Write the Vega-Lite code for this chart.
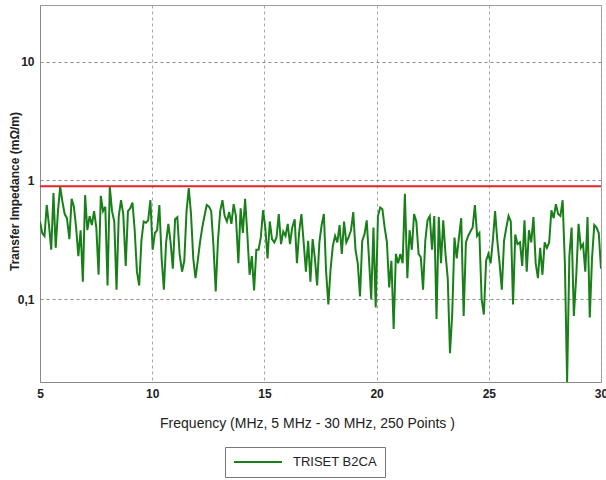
{
  "$schema": "https://vega.github.io/schema/vega-lite/v6.json",
  "width": 561,
  "height": 377,
  "autosize": {"type": "none"},
  "padding": {"left": 40, "top": 5, "right": 5, "bottom": 98},
  "background": "white",
  "config": {
    "view": {"stroke": "#9a9a9a", "strokeWidth": 1},
    "font": "Liberation Sans"
  },
  "datasets": {
    "imp": [
      {"f":5.00,"z":0.45},{"f":5.10,"z":0.36},{"f":5.20,"z":0.34},{"f":5.30,"z":0.62},{"f":5.40,"z":0.42},
      {"f":5.50,"z":0.26},{"f":5.60,"z":0.78},{"f":5.70,"z":0.27},{"f":5.80,"z":0.55},{"f":5.90,"z":0.88},
      {"f":6.00,"z":0.66},{"f":6.10,"z":0.52},{"f":6.20,"z":0.48},{"f":6.31,"z":0.32},{"f":6.41,"z":0.70},
      {"f":6.51,"z":0.60},{"f":6.61,"z":0.40},{"f":6.71,"z":0.23},{"f":6.81,"z":0.38},{"f":6.91,"z":0.14},
      {"f":7.01,"z":0.75},{"f":7.11,"z":0.38},{"f":7.21,"z":0.50},{"f":7.31,"z":0.42},{"f":7.41,"z":0.55},
      {"f":7.51,"z":0.40},{"f":7.61,"z":0.16},{"f":7.71,"z":0.74},{"f":7.81,"z":0.55},{"f":7.91,"z":0.60},
      {"f":8.01,"z":0.13},{"f":8.11,"z":0.88},{"f":8.21,"z":0.55},{"f":8.31,"z":0.45},{"f":8.41,"z":0.12},
      {"f":8.51,"z":0.50},{"f":8.61,"z":0.68},{"f":8.71,"z":0.52},{"f":8.82,"z":0.19},{"f":8.92,"z":0.55},
      {"f":9.02,"z":0.58},{"f":9.12,"z":0.65},{"f":9.22,"z":0.38},{"f":9.32,"z":0.17},{"f":9.42,"z":0.13},
      {"f":9.52,"z":0.31},{"f":9.62,"z":0.45},{"f":9.72,"z":0.44},{"f":9.82,"z":0.46},{"f":9.92,"z":0.68},
      {"f":10.02,"z":0.26},{"f":10.12,"z":0.36},{"f":10.22,"z":0.38},{"f":10.32,"z":0.62},{"f":10.42,"z":0.22},
      {"f":10.52,"z":0.12},{"f":10.62,"z":0.30},{"f":10.72,"z":0.43},{"f":10.82,"z":0.30},{"f":10.92,"z":0.18},
      {"f":11.02,"z":0.47},{"f":11.12,"z":0.49},{"f":11.22,"z":0.24},{"f":11.33,"z":0.17},{"f":11.43,"z":0.21},
      {"f":11.53,"z":0.55},{"f":11.63,"z":0.86},{"f":11.73,"z":0.52},{"f":11.83,"z":0.22},{"f":11.93,"z":0.15},
      {"f":12.03,"z":0.21},{"f":12.13,"z":0.30},{"f":12.23,"z":0.40},{"f":12.33,"z":0.50},{"f":12.43,"z":0.62},
      {"f":12.53,"z":0.60},{"f":12.63,"z":0.55},{"f":12.73,"z":0.28},{"f":12.83,"z":0.116},{"f":12.93,"z":0.31},
      {"f":13.03,"z":0.55},{"f":13.13,"z":0.68},{"f":13.23,"z":0.50},{"f":13.33,"z":0.45},{"f":13.43,"z":0.54},
      {"f":13.53,"z":0.43},{"f":13.63,"z":0.63},{"f":13.73,"z":0.50},{"f":13.84,"z":0.20},{"f":13.94,"z":0.58},
      {"f":14.04,"z":0.36},{"f":14.14,"z":0.70},{"f":14.24,"z":0.35},{"f":14.34,"z":0.16},{"f":14.44,"z":0.23},
      {"f":14.54,"z":0.118},{"f":14.64,"z":0.26},{"f":14.74,"z":0.26},{"f":14.84,"z":0.33},{"f":14.94,"z":0.56},
      {"f":15.04,"z":0.40},{"f":15.14,"z":0.22},{"f":15.24,"z":0.45},{"f":15.34,"z":0.32},{"f":15.44,"z":0.30},
      {"f":15.54,"z":0.33},{"f":15.64,"z":0.52},{"f":15.74,"z":0.29},{"f":15.84,"z":0.37},{"f":15.94,"z":0.34},
      {"f":16.04,"z":0.43},{"f":16.14,"z":0.29},{"f":16.24,"z":0.40},{"f":16.35,"z":0.47},{"f":16.45,"z":0.20},
      {"f":16.55,"z":0.37},{"f":16.65,"z":0.52},{"f":16.75,"z":0.30},{"f":16.85,"z":0.17},{"f":16.95,"z":0.31},
      {"f":17.05,"z":0.14},{"f":17.15,"z":0.32},{"f":17.25,"z":0.22},{"f":17.35,"z":0.13},{"f":17.45,"z":0.30},
      {"f":17.55,"z":0.42},{"f":17.65,"z":0.52},{"f":17.75,"z":0.17},{"f":17.85,"z":0.09},{"f":17.95,"z":0.18},
      {"f":18.05,"z":0.28},{"f":18.15,"z":0.34},{"f":18.25,"z":0.30},{"f":18.35,"z":0.42},{"f":18.45,"z":0.24},
      {"f":18.55,"z":0.45},{"f":18.65,"z":0.30},{"f":18.75,"z":0.33},{"f":18.86,"z":0.38},{"f":18.96,"z":0.54},
      {"f":19.06,"z":0.26},{"f":19.16,"z":0.20},{"f":19.26,"z":0.105},{"f":19.36,"z":0.31},{"f":19.46,"z":0.35},
      {"f":19.56,"z":0.46},{"f":19.66,"z":0.22},{"f":19.76,"z":0.10},{"f":19.86,"z":0.40},{"f":19.96,"z":0.085},
      {"f":20.06,"z":0.50},{"f":20.16,"z":0.59},{"f":20.26,"z":0.57},{"f":20.36,"z":0.40},{"f":20.46,"z":0.30},
      {"f":20.56,"z":0.125},{"f":20.66,"z":0.21},{"f":20.76,"z":0.056},{"f":20.86,"z":0.24},{"f":20.96,"z":0.20},
      {"f":21.06,"z":0.24},{"f":21.16,"z":0.20},{"f":21.26,"z":0.77},{"f":21.37,"z":0.15},{"f":21.47,"z":0.38},
      {"f":21.57,"z":0.26},{"f":21.67,"z":0.52},{"f":21.77,"z":0.45},{"f":21.87,"z":0.24},{"f":21.97,"z":0.225},
      {"f":22.07,"z":0.12},{"f":22.17,"z":0.31},{"f":22.27,"z":0.46},{"f":22.37,"z":0.50},{"f":22.47,"z":0.26},
      {"f":22.57,"z":0.50},{"f":22.67,"z":0.068},{"f":22.77,"z":0.49},{"f":22.87,"z":0.20},{"f":22.97,"z":0.46},
      {"f":23.07,"z":0.24},{"f":23.17,"z":0.15},{"f":23.27,"z":0.035},{"f":23.37,"z":0.075},{"f":23.47,"z":0.33},
      {"f":23.57,"z":0.22},{"f":23.67,"z":0.33},{"f":23.77,"z":0.48},{"f":23.88,"z":0.072},{"f":23.98,"z":0.30},
      {"f":24.08,"z":0.34},{"f":24.18,"z":0.37},{"f":24.28,"z":0.40},{"f":24.38,"z":0.62},{"f":24.48,"z":0.34},
      {"f":24.58,"z":0.36},{"f":24.68,"z":0.10},{"f":24.78,"z":0.074},{"f":24.88,"z":0.21},{"f":24.98,"z":0.24},
      {"f":25.08,"z":0.20},{"f":25.18,"z":0.31},{"f":25.28,"z":0.55},{"f":25.38,"z":0.31},{"f":25.48,"z":0.20},
      {"f":25.58,"z":0.12},{"f":25.68,"z":0.31},{"f":25.78,"z":0.40},{"f":25.88,"z":0.50},{"f":25.98,"z":0.45},
      {"f":26.08,"z":0.09},{"f":26.18,"z":0.35},{"f":26.28,"z":0.29},{"f":26.39,"z":0.30},{"f":26.49,"z":0.19},
      {"f":26.59,"z":0.46},{"f":26.69,"z":0.17},{"f":26.79,"z":0.38},{"f":26.89,"z":0.30},{"f":26.99,"z":0.49},
      {"f":27.09,"z":0.20},{"f":27.19,"z":0.15},{"f":27.29,"z":0.27},{"f":27.39,"z":0.16},{"f":27.49,"z":0.30},
      {"f":27.59,"z":0.27},{"f":27.69,"z":0.30},{"f":27.79,"z":0.56},{"f":27.89,"z":0.48},{"f":27.99,"z":0.63},
      {"f":28.09,"z":0.52},{"f":28.19,"z":0.50},{"f":28.29,"z":0.68},{"f":28.39,"z":0.20},{"f":28.49,"z":0.02},
      {"f":28.59,"z":0.23},{"f":28.69,"z":0.40},{"f":28.79,"z":0.072},{"f":28.90,"z":0.16},{"f":29.00,"z":0.43},
      {"f":29.10,"z":0.27},{"f":29.20,"z":0.29},{"f":29.30,"z":0.17},{"f":29.40,"z":0.49},{"f":29.50,"z":0.07},
      {"f":29.60,"z":0.22},{"f":29.70,"z":0.42},{"f":29.80,"z":0.40},{"f":29.90,"z":0.36},{"f":30.00,"z":0.18}
    ],
    "limit": [{"limit": 0.89}]
  },
  "layer": [
    {
      "data": {"name": "imp"},
      "mark": {"type": "line", "strokeWidth": 2, "clip": true},
      "encoding": {
        "x": {
          "field": "f", "type": "quantitative",
          "scale": {"domain": [5, 30], "nice": false, "zero": false},
          "axis": {
            "values": [5, 10, 15, 20, 25, 30],
            "grid": true, "gridDash": [3, 3], "gridColor": "#a8a8a8",
            "ticks": false, "domainColor": "#8a8a8a",
            "labelFontWeight": "bold", "labelFontSize": 12, "labelColor": "#222",
            "labelPadding": 6, "labelFlush": false,
            "title": "Frequency (MHz, 5 MHz - 30 MHz, 250 Points )",
            "titleFontSize": 14, "titleFontWeight": "normal", "titleColor": "#222",
            "titlePadding": 17, "titleX": 267
          }
        },
        "y": {
          "field": "z", "type": "quantitative",
          "scale": {"type": "log", "domain": [0.02, 30], "nice": false},
          "axis": {
            "values": [0.1, 1, 10],
            "labelExpr": "datum.value < 0.5 ? '0,1' : format(datum.value, '~g')",
            "grid": true, "gridDash": [3, 3], "gridColor": "#8a8a8a",
            "ticks": false, "domainColor": "#8a8a8a",
            "labelFontWeight": "bold", "labelFontSize": 12, "labelColor": "#222",
            "labelPadding": 6,
            "title": "Transfer Impedance (mΩ/m)",
            "titleFontSize": 12, "titleFontWeight": "bold", "titleColor": "#222",
            "titleX": -19, "titleY": 186
          }
        },
        "color": {
          "datum": "TRISET B2CA",
          "type": "nominal",
          "scale": {"range": ["#198019"]},
          "legend": {
            "orient": "none", "legendX": 185, "legendY": 442,
            "title": null, "symbolType": "stroke", "symbolSize": 2300,
            "symbolStrokeWidth": 2, "labelFontSize": 13, "labelColor": "#222",
            "labelOffset": 10, "strokeColor": "#777", "fillColor": "white",
            "padding": 8, "cornerRadius": 0, "clipHeight": 14
          }
        }
      }
    },
    {
      "data": {"name": "limit"},
      "mark": {"type": "rule", "color": "#e3242b", "strokeWidth": 2},
      "encoding": {"y": {"field": "limit", "type": "quantitative"}}
    }
  ]
}
